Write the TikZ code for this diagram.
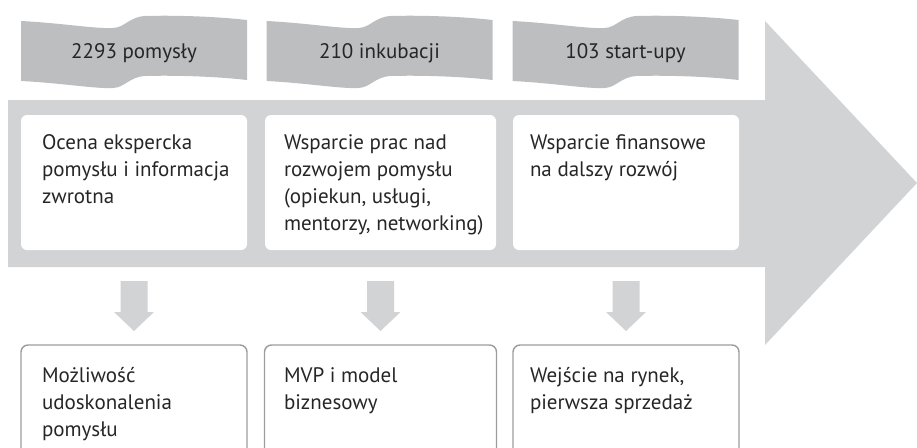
\documentclass[tikz,border=0pt]{standalone}
\usepackage{fontspec}
\setmainfont{PT Sans}
\usetikzlibrary{calc}

\definecolor{bannergray}{HTML}{BDBEC0}
\definecolor{flowgray}{HTML}{D1D3D4}
\definecolor{inkgray}{HTML}{262626}
\definecolor{framegray}{HTML}{9C9C9C}

\begin{document}
\begin{tikzpicture}[x=1pt,y=-1pt,
  bodyfont/.style={font=\fontsize{21}{26.7}\selectfont},
  txt/.style={bodyfont, anchor=north west, inner sep=0pt, outer sep=0pt, align=left, text=inkgray},
  flagtxt/.style={bodyfont, anchor=base, inner sep=0pt, text=inkgray},
  stagebox/.style={anchor=north west, fill=white, rounded corners=6pt, inner sep=0pt, outer sep=0pt},
  resultbox/.style={anchor=north west, draw=framegray, line width=1.4pt, rounded corners=7pt, inner sep=0pt, outer sep=0pt},
  downblock/.style={fill=flowgray},
]
\useasboundingbox (0,0) rectangle (917,447);
\clip (0,0) rectangle (917,447);

% wavy banners with the counts
\foreach \bx in {21,266.5,512.5}{
  \begin{scope}[shift={(\bx,0)}]
    \fill[bannergray]
      (0,21) .. controls (40,23) and (75,29) .. (92,28)
             .. controls (104,27.5) and (108,17) .. (124,16)
             .. controls (160,15) and (200,17) .. (226,20)
      -- (226,80)
             .. controls (200,77) and (160,75) .. (124,76)
             .. controls (108,77) and (104,87.5) .. (92,88)
             .. controls (75,89) and (40,83) .. (0,81)
      -- cycle;
  \end{scope}
}
\node[flagtxt] (f1) at (134,58) {2293 pomysły};
\node[flagtxt] (f2) at (379.5,58) {210 inkubacji};
\node[flagtxt] (f3) at (625.5,58) {103 start-upy};

% the large process arrow
\fill[flowgray] (8,100) -- (765,100) -- (765,21) -- (917,183)
  -- (765,345) -- (765,267) -- (8,267) -- cycle;

% stage boxes on the arrow
\node[stagebox, minimum width=226pt, minimum height=135pt] (s1) at (21,115) {};
\node[stagebox, minimum width=231pt, minimum height=135pt] (s2) at (265,115) {};
\node[stagebox, minimum width=226pt, minimum height=135pt] (s3) at (513,115) {};

\node[txt] (s1t) at (42,131.3) {\strut Ocena ekspercka\\pomysłu i informacja\\zwrotna};
\node[txt] (s2t) at (284,131.3) {\strut Wsparcie prac nad\\rozwojem pomysłu\\(opiekun, usługi,\\mentorzy, networking)};
\node[txt] (s3t) at (530,131.3) {\strut Wsparcie finansowe\\na dalszy rozwój};

% result boxes, running off the lower edge
\node[resultbox, minimum width=226pt, minimum height=130pt] (r1) at (21,345) {};
\node[resultbox, minimum width=232pt, minimum height=130pt] (r2) at (264.5,345) {};
\node[resultbox, minimum width=226pt, minimum height=130pt] (r3) at (513,345) {};

\node[txt] (r1t) at (42,364.3) {\strut Możliwość\\udoskonalenia\\pomysłu};
\node[txt] (r2t) at (284,364.3) {\strut MVP i model\\biznesowy};
\node[txt] (r3t) at (530,364.3) {\strut Wejście na rynek,\\pierwsza sprzedaż};

% block arrows from each stage to its result
\foreach \a/\b in {s1/r1,s2/r2,s3/r3}{
  \fill[downblock] ($(\a.south)+(-13.5,31)$) -- ++(27,0) -- ++(0,31) -- ++(6.5,0)
    -- ++(-20,19) -- ++(-20,-19) -- ++(6.5,0) -- cycle;
}
\end{tikzpicture}
\end{document}
